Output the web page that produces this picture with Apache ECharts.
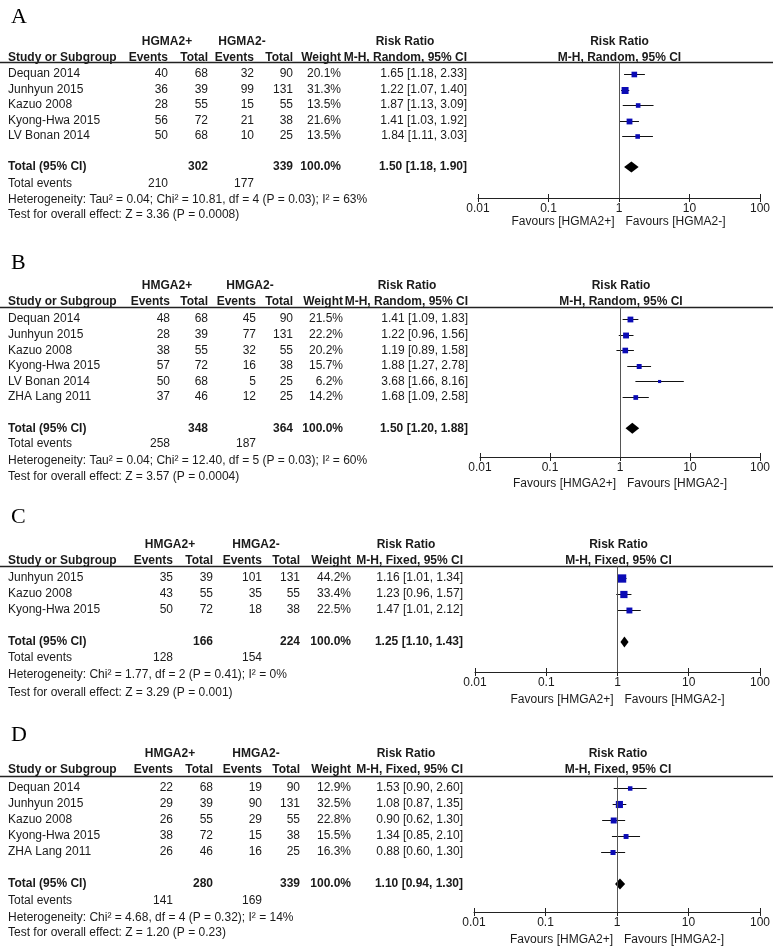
<!DOCTYPE html>
<html><head><meta charset="utf-8">
<script src="https://cdn.jsdelivr.net/npm/echarts@6/dist/echarts.min.js"></script>
<style>html,body{margin:0;padding:0;background:#fff}#c{width:773px;height:949px}</style>
</head><body><div id="c"></div>
<script>
// ---------- DATA ----------
const panelLetters = ['A', 'B', 'C', 'D'];
const groupPos = ['HGMA2+', 'HMGA2+', 'HMGA2+', 'HMGA2+'];
const groupNeg = ['HGMA2-', 'HMGA2-', 'HMGA2-', 'HMGA2-'];
const methodLabels = ['M-H, Random, 95% CI', 'M-H, Random, 95% CI', 'M-H, Fixed, 95% CI', 'M-H, Fixed, 95% CI'];
const tickValues = [0.01, 0.1, 1, 10, 100];
const tickLabels = ['0.01', '0.1', '1', '10', '100'];

// Panel A
const A_study = ['Dequan 2014', 'Junhyun 2015', 'Kazuo 2008', 'Kyong-Hwa 2015', 'LV Bonan 2014'];
const A_posEvents = [40, 36, 28, 56, 50];
const A_posTotal = [68, 39, 55, 72, 68];
const A_negEvents = [32, 99, 15, 21, 10];
const A_negTotal = [90, 131, 55, 38, 25];
const A_weight = [20.1, 31.3, 13.5, 21.6, 13.5];
const A_rr = [1.65, 1.22, 1.87, 1.41, 1.84];
const A_lo = [1.18, 1.07, 1.13, 1.03, 1.11];
const A_hi = [2.33, 1.40, 3.09, 1.92, 3.03];

// Panel B
const B_study = ['Dequan 2014', 'Junhyun 2015', 'Kazuo 2008', 'Kyong-Hwa 2015', 'LV Bonan 2014', 'ZHA Lang 2011'];
const B_posEvents = [48, 28, 38, 57, 50, 37];
const B_posTotal = [68, 39, 55, 72, 68, 46];
const B_negEvents = [45, 77, 32, 16, 5, 12];
const B_negTotal = [90, 131, 55, 38, 25, 25];
const B_weight = [21.5, 22.2, 20.2, 15.7, 6.2, 14.2];
const B_rr = [1.41, 1.22, 1.19, 1.88, 3.68, 1.68];
const B_lo = [1.09, 0.96, 0.89, 1.27, 1.66, 1.09];
const B_hi = [1.83, 1.56, 1.58, 2.78, 8.16, 2.58];

// Panel C
const C_study = ['Junhyun 2015', 'Kazuo 2008', 'Kyong-Hwa 2015'];
const C_posEvents = [35, 43, 50];
const C_posTotal = [39, 55, 72];
const C_negEvents = [101, 35, 18];
const C_negTotal = [131, 55, 38];
const C_weight = [44.2, 33.4, 22.5];
const C_rr = [1.16, 1.23, 1.47];
const C_lo = [1.01, 0.96, 1.01];
const C_hi = [1.34, 1.57, 2.12];

// Panel D
const D_study = ['Dequan 2014', 'Junhyun 2015', 'Kazuo 2008', 'Kyong-Hwa 2015', 'ZHA Lang 2011'];
const D_posEvents = [22, 29, 26, 38, 26];
const D_posTotal = [68, 39, 55, 72, 46];
const D_negEvents = [19, 90, 29, 15, 16];
const D_negTotal = [90, 131, 55, 38, 25];
const D_weight = [12.9, 32.5, 22.8, 15.5, 16.3];
const D_rr = [1.53, 1.08, 0.90, 1.34, 0.88];
const D_lo = [0.90, 0.87, 0.62, 0.85, 0.60];
const D_hi = [2.60, 1.35, 1.30, 2.10, 1.30];

// Totals (A, B, C, D)
const totalPosN = [302, 348, 166, 280];
const totalNegN = [339, 364, 224, 339];
const totalRR = [1.50, 1.50, 1.25, 1.10];
const totalLo = [1.18, 1.20, 1.10, 0.94];
const totalHi = [1.90, 1.88, 1.43, 1.30];
const totalPosEvents = [210, 258, 128, 141];
const totalNegEvents = [177, 187, 154, 169];
const hetText = [
  'Heterogeneity: Tau\u00b2 = 0.04; Chi\u00b2 = 10.81, df = 4 (P = 0.03); I\u00b2 = 63%',
  'Heterogeneity: Tau\u00b2 = 0.04; Chi\u00b2 = 12.40, df = 5 (P = 0.03); I\u00b2 = 60%',
  'Heterogeneity: Chi\u00b2 = 1.77, df = 2 (P = 0.41); I\u00b2 = 0%',
  'Heterogeneity: Chi\u00b2 = 4.68, df = 4 (P = 0.32); I\u00b2 = 14%'
];
const testText = [
  'Test for overall effect: Z = 3.36 (P = 0.0008)',
  'Test for overall effect: Z = 3.57 (P = 0.0004)',
  'Test for overall effect: Z = 3.29 (P = 0.001)',
  'Test for overall effect: Z = 1.20 (P = 0.23)'
];

// ---------- LAYOUT (pixel positions) ----------
const layouts = [
  {letterY: 17, h1: 42, h2: 58, line: 62, row0: 74, rowH: 15.5, evY: 184, hetY: 200, testY: 215, axisY: 198, xMin: 478, xMax: 761, cols: [168, 208, 254, 293, 341, 467], grp: [167, 242], rrHdr: 405, favY: 222},
  {letterY: 263, h1: 286, h2: 302, line: 307, row0: 319, rowH: 15.6, evY: 444, hetY: 461, testY: 477, axisY: 457, xMin: 480, xMax: 762, cols: [170, 208, 256, 293, 343, 468], grp: [167, 250], rrHdr: 407, favY: 484},
  {letterY: 517, h1: 545, h2: 561, line: 566, row0: 578, rowH: 16, evY: 658, hetY: 675, testY: 693, axisY: 672, xMin: 475, xMax: 762, cols: [173, 213, 262, 300, 351, 463], grp: [170, 256], rrHdr: 406, favY: 700},
  {letterY: 735, h1: 754, h2: 770, line: 776, row0: 788, rowH: 16, evY: 901, hetY: 918, testY: 933, axisY: 912, xMin: 474, xMax: 762, cols: [173, 213, 262, 300, 351, 463], grp: [170, 256], rrHdr: 406, favY: 940}
];

const panels = [
  {study: A_study, pe: A_posEvents, pt: A_posTotal, ne: A_negEvents, nt: A_negTotal, w: A_weight, rr: A_rr, lo: A_lo, hi: A_hi},
  {study: B_study, pe: B_posEvents, pt: B_posTotal, ne: B_negEvents, nt: B_negTotal, w: B_weight, rr: B_rr, lo: B_lo, hi: B_hi},
  {study: C_study, pe: C_posEvents, pt: C_posTotal, ne: C_negEvents, nt: C_negTotal, w: C_weight, rr: C_rr, lo: C_lo, hi: C_hi},
  {study: D_study, pe: D_posEvents, pt: D_posTotal, ne: D_negEvents, nt: D_negTotal, w: D_weight, rr: D_rr, lo: D_lo, hi: D_hi}
];

// ---------- BUILD ----------
const FONT = '"Liberation Sans", Arial, sans-serif';
const TXT = '#1a1a1a';
const SQ_K = 1.25;
const fmtCI = (r, l, h) => r.toFixed(2) + ' [' + l.toFixed(2) + ', ' + h.toFixed(2) + ']';

function txt(x, y, s, align, bold, size, family, color) {
  return {
    type: 'text', x: x, y: y, silent: true,
    style: {
      text: s, fill: color || TXT,
      font: (bold ? 'bold ' : '') + (size || 12) + 'px ' + (family || FONT),
      textAlign: align || 'left', textVerticalAlign: 'middle'
    }
  };
}

const graphics = [];
const grids = [], xAxes = [], yAxes = [], series = [];

panels.forEach((p, k) => {
  const L = layouts[k];
  const n = p.study.length;
  const c = L.cols;
  // letter
  graphics.push(txt(11, L.letterY, panelLetters[k], 'left', false, 22, '"Liberation Serif", "DejaVu Serif", serif', '#000'));
  // header row 1
  graphics.push(txt(L.grp[0], L.h1, groupPos[k], 'center', true));
  graphics.push(txt(L.grp[1], L.h1, groupNeg[k], 'center', true));
  graphics.push(txt(L.rrHdr, L.h1, 'Risk Ratio', 'center', true));
  const x1 = (L.xMin + L.xMax) / 2;
  graphics.push(txt(x1, L.h1, 'Risk Ratio', 'center', true));
  // header row 2
  graphics.push(txt(8, L.h2, 'Study or Subgroup', 'left', true));
  graphics.push(txt(c[0], L.h2, 'Events', 'right', true));
  graphics.push(txt(c[1], L.h2, 'Total', 'right', true));
  graphics.push(txt(c[2], L.h2, 'Events', 'right', true));
  graphics.push(txt(c[3], L.h2, 'Total', 'right', true));
  graphics.push(txt(c[4], L.h2, 'Weight', 'right', true));
  graphics.push(txt(c[5], L.h2, methodLabels[k], 'right', true));
  graphics.push(txt(x1, L.h2, methodLabels[k], 'center', true));
  // underline
  graphics.push({type: 'line', silent: true, shape: {x1: 0, y1: L.line + 0.5, x2: 773, y2: L.line + 0.5}, style: {stroke: '#222', lineWidth: 1.5}});
  // study rows
  for (let i = 0; i < n; i++) {
    const y = L.row0 + i * L.rowH;
    graphics.push(txt(8, y, p.study[i], 'left'));
    graphics.push(txt(c[0], y, String(p.pe[i]), 'right'));
    graphics.push(txt(c[1], y, String(p.pt[i]), 'right'));
    graphics.push(txt(c[2], y, String(p.ne[i]), 'right'));
    graphics.push(txt(c[3], y, String(p.nt[i]), 'right'));
    graphics.push(txt(c[4], y, p.w[i].toFixed(1) + '%', 'right'));
    graphics.push(txt(c[5], y, fmtCI(p.rr[i], p.lo[i], p.hi[i]), 'right'));
  }
  // total row
  const ty = L.row0 + (n + 1) * L.rowH;
  graphics.push(txt(8, ty, 'Total (95% CI)', 'left', true));
  graphics.push(txt(c[1], ty, String(totalPosN[k]), 'right', true));
  graphics.push(txt(c[3], ty, String(totalNegN[k]), 'right', true));
  graphics.push(txt(c[4], ty, '100.0%', 'right', true));
  graphics.push(txt(c[5], ty, fmtCI(totalRR[k], totalLo[k], totalHi[k]), 'right', true));
  graphics.push(txt(8, L.evY, 'Total events', 'left'));
  graphics.push(txt(c[0], L.evY, String(totalPosEvents[k]), 'right'));
  graphics.push(txt(c[2], L.evY, String(totalNegEvents[k]), 'right'));
  graphics.push(txt(8, L.hetY, hetText[k], 'left'));
  graphics.push(txt(8, L.testY, testText[k], 'left'));
  // favours
  graphics.push(txt(x1 - 5, L.favY, 'Favours [' + groupPos[k] + ']', 'right'));
  graphics.push(txt(x1 + 6, L.favY, 'Favours [' + groupNeg[k] + ']', 'left'));

  // grid & axes
  grids.push({left: L.xMin, width: L.xMax - L.xMin, top: L.line, height: L.axisY - L.line, containLabel: false});
  const fmt = v => { const i = tickValues.findIndex(t => Math.abs(t - v) / t < 1e-6); return i >= 0 ? tickLabels[i] : ''; };
  xAxes.push({
    type: 'log', logBase: 10, gridIndex: k, min: 0.01, max: 100, position: 'bottom',
    axisLine: {show: true, onZero: false, lineStyle: {color: '#222', width: 1}},
    axisTick: {show: true, inside: false, length: 4, lineStyle: {color: '#222'}},
    axisLabel: {show: true, margin: 5, color: TXT, fontSize: 12, fontFamily: FONT, formatter: fmt},
    splitLine: {show: false}, minorTick: {show: false}
  });
  xAxes.push({
    type: 'log', logBase: 10, gridIndex: k, min: 0.01, max: 100, position: 'bottom',
    axisLine: {show: false, onZero: false},
    axisTick: {show: true, inside: true, length: 4, lineStyle: {color: '#222'}},
    axisLabel: {show: false}, splitLine: {show: false}
  });
  yAxes.push({
    type: 'value', gridIndex: k, inverse: true, show: false,
    min: -(L.row0 - L.line) / L.rowH, max: (L.axisY - L.row0) / L.rowH,
    splitLine: {show: false}
  });
  const studyData = p.rr.map((r, i) => [r, p.lo[i], p.hi[i], i, p.w[i]]);
  series.push({
    type: 'custom', xAxisIndex: 2 * k, yAxisIndex: k, silent: true, clip: true,
    encode: {x: [0, 1, 2], y: 3},
    data: studyData,
    renderItem: function (params, api) {
      const y = api.value(3);
      const a = api.coord([api.value(1), y]);
      const b = api.coord([api.value(2), y]);
      const m = api.coord([api.value(0), y]);
      const s = SQ_K * Math.sqrt(api.value(4));
      const yy = Math.round(m[1]) + 0.5;
      return {type: 'group', children: [
        {type: 'line', shape: {x1: a[0], y1: yy, x2: b[0], y2: yy}, style: {stroke: '#111', lineWidth: 1}},
        {type: 'rect', shape: {x: m[0] - s / 2, y: yy - s / 2, width: s, height: s}, style: {fill: '#0b0bb5'}}
      ]};
    },
    markLine: {
      silent: true, symbol: 'none', animation: false,
      label: {show: false},
      lineStyle: {color: '#555', width: 1, type: 'solid'},
      data: [{xAxis: 1}]
    },
    z: 3
  });
  series.push({
    type: 'custom', xAxisIndex: 2 * k, yAxisIndex: k, silent: true,
    encode: {x: [0, 1, 2], y: 3},
    data: [[totalRR[k], totalLo[k], totalHi[k], n + 1]],
    renderItem: function (params, api) {
      const y = api.value(3);
      const a = api.coord([api.value(1), y]);
      const b = api.coord([api.value(2), y]);
      const m = api.coord([api.value(0), y]);
      const h = 5.5;
      return {type: 'polygon', shape: {points: [[a[0], m[1]], [m[0], m[1] - h], [b[0], m[1]], [m[0], m[1] + h]]}, style: {fill: '#000'}};
    },
    z: 4
  });
});

const chart = echarts.init(document.getElementById('c'), null, {renderer: 'canvas'});
chart.setOption({
  animation: false,
  backgroundColor: '#fff',
  grid: grids, xAxis: xAxes, yAxis: yAxes, series: series,
  graphic: {elements: graphics}
});
</script></body></html>
